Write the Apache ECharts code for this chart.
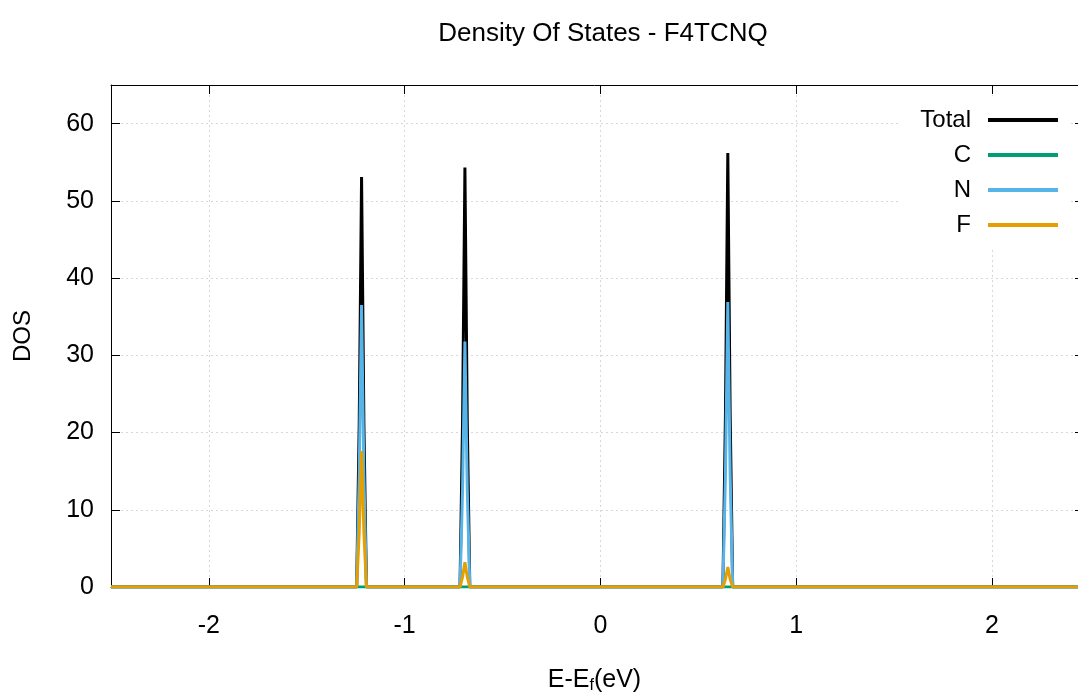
<!DOCTYPE html>
<html>
<head>
<meta charset="utf-8">
<script src="https://cdn.jsdelivr.net/npm/echarts@6/dist/echarts.min.js"></script>
<style>html,body{margin:0;padding:0;background:#fff;overflow:hidden}#c{width:1078px;height:693px}</style>
</head>
<body>
<div id="c"></div>
<script>
// Energy grid (eV, relative to Fermi level)
const energy = [-2.5, -1.245, -1.232, -1.22, -1.208, -1.195, -0.717, -0.704, -0.692, -0.68, -0.667, 0.626, 0.639, 0.651, 0.663, 0.676, 2.5];
// DOS per series
const totalDOS = [0, 0, 21.0, 53.1, 21.0, 0, 0, 21.5, 54.3, 21.5, 0, 0, 22.3, 56.2, 22.3, 0, 0];
const cDOS     = [0, 0, 0, 0, 0, 0, 0, 0, 0, 0, 0, 0, 0, 0, 0, 0, 0];
const nDOS     = [0, 0, 14.5, 36.5, 14.5, 0, 0, 12.6, 31.8, 12.6, 0, 0, 14.6, 36.9, 14.6, 0, 0];
const fDOS     = [0, 0, 7.0, 17.6, 7.0, 0, 0, 1.3, 3.2, 1.3, 0, 0, 1.0, 2.6, 1.0, 0, 0];
const xTicks = [-2, -1, 0, 1, 2];
const yTicks = [0, 10, 20, 30, 40, 50, 60];
const seriesNames = ['Total', 'C', 'N', 'F'];
const seriesColors = ['#000000', '#009e73', '#56b4e9', '#e69f00'];

const FONT = 'Liberation Sans';
const pairs = arr => energy.map((e, i) => [e, arr[i]]);
const allData = [totalDOS, cDOS, nDOS, fDOS];
const X_MIN = -2.5, X_MAX = 2.44; // visible window (plot is cropped at the right)

const chart = echarts.init(document.getElementById('c'));
const tickStyle = { color: '#000', width: 1 };
chart.setOption({
  animation: false,
  backgroundColor: '#fff',
  textStyle: { fontFamily: FONT },
  title: {
    text: 'Density Of States - F4TCNQ',
    left: 598, textAlign: 'center', top: 16,
    textStyle: { fontFamily: FONT, fontSize: 26, fontWeight: 'normal', color: '#000' }
  },
  grid: { left: 111, top: 85, bottom: 106, right: 0, show: false, containLabel: false, outerBoundsMode: 'none' },
  legend: {
    orient: 'vertical', right: 8, top: 96, align: 'right',
    icon: 'rect', itemWidth: 70, itemHeight: 4, itemGap: 11,
    backgroundColor: '#fff', padding: [12, 12, 12, 20],
    textStyle: { fontFamily: FONT, fontSize: 24, color: '#000', padding: [0, 12, 0, 0] },
    data: seriesNames
  },
  xAxis: [{
    type: 'value', min: X_MIN, max: X_MAX,
    name: '{a|E-E}{s|f}{a|(eV)}', nameLocation: 'middle', nameGap: 79,
    nameTextStyle: { rich: { a: { fontFamily: FONT, fontSize: 25, color: '#000' }, s: { fontFamily: FONT, fontSize: 16, color: '#000', padding: [12, 0, 0, 0] } } },
    axisLine: { show: true, onZero: false, lineStyle: tickStyle },
    axisTick: { show: true, inside: true, length: 9, customValues: xTicks, lineStyle: tickStyle },
    axisLabel: { customValues: xTicks, margin: 27, fontFamily: FONT, fontSize: 25, color: '#000' },
    splitLine: { show: true, lineStyle: { color: '#d8d8d8', type: [2, 3], width: 1 } }
  }, {
    type: 'value', min: X_MIN, max: X_MAX, position: 'top',
    axisLine: { show: true, onZero: false, lineStyle: tickStyle },
    axisTick: { show: true, inside: true, length: 9, customValues: xTicks, lineStyle: tickStyle },
    axisLabel: { show: false },
    splitLine: { show: false }
  }],
  yAxis: [{
    type: 'value', min: 0, max: 65,
    name: 'DOS', nameLocation: 'middle', nameGap: 76, nameRotate: 90,
    nameTextStyle: { fontFamily: FONT, fontSize: 24, color: '#000' },
    axisLine: { show: true, onZero: false, lineStyle: tickStyle },
    axisTick: { show: true, inside: true, length: 9, customValues: yTicks, lineStyle: tickStyle },
    axisLabel: { customValues: yTicks, margin: 17, fontFamily: FONT, fontSize: 25, color: '#000' },
    splitLine: { show: true, lineStyle: { color: '#d8d8d8', type: [2, 3], width: 1 } }
  }, {
    type: 'value', min: 0, max: 65, position: 'right',
    axisLine: { show: false, onZero: false },
    axisTick: { show: true, inside: true, length: 3, customValues: yTicks, lineStyle: tickStyle },
    axisLabel: { show: false },
    splitLine: { show: false }
  }],
  series: seriesNames.map((n, i) => ({
    name: n, type: 'line', xAxisIndex: 0, yAxisIndex: 0,
    data: pairs(allData[i]), symbol: 'none', smooth: false,
    color: seriesColors[i],
    lineStyle: { width: 3, color: seriesColors[i] },
    z: 2 + i
  }))
});
</script>
</body>
</html>
